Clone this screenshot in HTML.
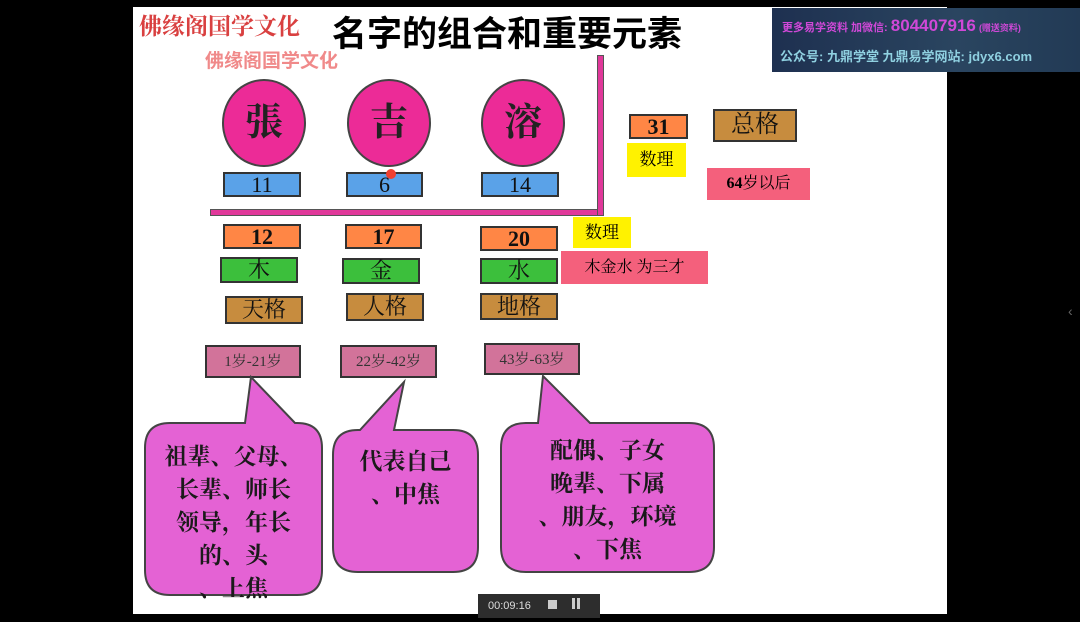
<!DOCTYPE html>
<html><head><meta charset="utf-8"><style>
body{margin:0;width:1080px;height:622px;background:#000;position:relative;overflow:hidden;font-family:"Liberation Serif","Noto Serif CJK SC",serif}
div{position:absolute;box-sizing:border-box}
.b{border:2px solid #333;text-align:center;color:#111;font-weight:bold}
.blue{background:#5aa2e8;font-size:22px;line-height:22px;font-weight:normal}
.or{background:#ff8645;font-size:22px;line-height:22px}
.gr{background:#3cbf3c;font-size:22px;line-height:22px;font-weight:normal}
.br{background:#c78c3e;font-size:22px;line-height:24px;font-weight:normal}
.ag{background:#d2739a;font-size:15px;line-height:30px;font-weight:normal;color:#333}
.circ{background:#ec2b97;border:2px solid #444;border-radius:50%;text-align:center;font-size:38px;color:#222;font-weight:bold}
.s{font-family:"Liberation Sans","Noto Sans CJK SC",sans-serif}
.bt{text-align:center;font-size:23px;line-height:33px;color:#1a1a1a;font-family:'Noto Serif CJK SC',serif;font-weight:bold}
</style></head><body>
<div style="left:133px;top:7px;width:814px;height:607px;background:#fff"></div>
<div style="left:139px;top:8px;font-size:23px;color:#d94040;font-weight:bold">佛缘阁国学文化</div>
<div style="left:205px;top:46px;font-size:19px;color:#f08a8a;font-weight:bold" class="s">佛缘阁国学文化</div>
<div style="left:332px;top:10px;font-size:35px;color:#000;font-weight:bold;font-family:'Noto Sans CJK SC',sans-serif;line-height:44px">名字的组合和重要元素</div>

<div class="circ" style="left:222px;top:79px;width:84px;height:88px;line-height:84px">張</div>
<div class="circ" style="left:347px;top:79px;width:84px;height:88px;line-height:84px">吉</div>
<div class="circ" style="left:481px;top:79px;width:84px;height:88px;line-height:84px">溶</div>

<div class="b blue" style="left:223px;top:172px;width:78px;height:25px">11</div>
<div class="b blue" style="left:346px;top:172px;width:77px;height:25px">6</div>
<div style="left:386px;top:169px;width:10px;height:10px;border-radius:50%;background:#f04030"></div>
<div class="b blue" style="left:481px;top:172px;width:78px;height:25px">14</div>

<div style="left:210px;top:209px;width:394px;height:7px;background:#e0389a;border:1px solid #555"></div>
<div style="left:597px;top:55px;width:7px;height:161px;background:#e0389a;border:1px solid #555"></div>

<div class="b or" style="left:223px;top:224px;width:78px;height:25px">12</div>
<div class="b or" style="left:345px;top:224px;width:77px;height:25px">17</div>
<div class="b or" style="left:480px;top:226px;width:78px;height:25px">20</div>
<div class="b gr" style="left:220px;top:257px;width:78px;height:26px">木</div>
<div class="b gr" style="left:342px;top:258px;width:78px;height:26px">金</div>
<div class="b gr" style="left:480px;top:258px;width:78px;height:26px">水</div>
<div class="b br" style="left:225px;top:296px;width:78px;height:28px">天格</div>
<div class="b br" style="left:346px;top:293px;width:78px;height:28px">人格</div>
<div class="b br" style="left:480px;top:293px;width:78px;height:27px">地格</div>
<div class="b ag" style="left:205px;top:345px;width:96px;height:33px">1岁-21岁</div>
<div class="b ag" style="left:340px;top:345px;width:97px;height:33px">22岁-42岁</div>
<div class="b ag" style="left:484px;top:343px;width:96px;height:32px">43岁-63岁</div>

<div style="left:573px;top:217px;width:58px;height:31px;background:#fff200;font-size:17px;line-height:31px;text-align:center">数理</div>
<div style="left:561px;top:251px;width:147px;height:33px;background:#f4607c;font-size:16px;line-height:33px;text-align:center">木金水 为三才</div>
<div class="b or" style="left:629px;top:114px;width:59px;height:25px">31</div>
<div class="b br" style="left:713px;top:109px;width:84px;height:33px;line-height:29px;font-size:24px">总格</div>
<div style="left:627px;top:143px;width:59px;height:34px;background:#fff200;font-size:17px;line-height:34px;text-align:center">数理</div>
<div style="left:707px;top:168px;width:103px;height:32px;background:#f4607c;font-size:16px;line-height:32px;text-align:center"><b>64</b>岁以后</div>

<svg style="position:absolute;left:0;top:0" width="1080" height="622">
<g fill="#e462d4" stroke="#444" stroke-width="2">
<path d="M170,423 L245,423 L251,377 L295,423 L297,423 Q322,423 322,448 L322,570 Q322,595 297,595 L170,595 Q145,595 145,570 L145,448 Q145,423 170,423 Z"/>
<path d="M358,430 L360,430 L404,382 L394,430 L453,430 Q478,430 478,455 L478,547 Q478,572 453,572 L358,572 Q333,572 333,547 L333,455 Q333,430 358,430 Z"/>
<path d="M526,423 L538,423 L543,376 L590,423 L689,423 Q714,423 714,448 L714,547 Q714,572 689,572 L526,572 Q501,572 501,547 L501,448 Q501,423 526,423 Z"/>
</g></svg>
<div class="bt" style="left:145px;top:438px;width:177px">祖辈、父母、<br>长辈、师长<br>领导，年长<br>的、头<br>、上焦</div>
<div class="bt" style="left:333px;top:443px;width:145px">代表自己<br>、中焦</div>
<div class="bt" style="left:501px;top:432px;width:213px">配偶、子女<br>晚辈、下属<br>、朋友，环境<br>、下焦</div>
<div style="left:133px;top:614px;width:814px;height:8px;background:#000"></div>
<div style="left:478px;top:594px;width:122px;height:24px;background:#2d2d2d;color:#ddd;font-size:11px;line-height:24px;padding-left:10px" class="s">00:09:16 <span style="display:inline-block;width:9px;height:9px;background:#ccc;margin-left:14px"></span> <span style="display:inline-block;width:3px;height:11px;background:#ccc;margin-left:12px"></span><span style="display:inline-block;width:3px;height:11px;background:#ccc;margin-left:2px"></span></div>

<div style="left:772px;top:8px;width:308px;height:64px;background:linear-gradient(90deg,#1e3050,#2a4560 60%,#223a55);" class="s">
<div style="left:10px;top:8px;font-size:11px;color:#d048d8;white-space:nowrap;font-weight:bold">更多易学资料 加微信: <span style="font-size:17px">804407916</span> <span style="font-size:9px">(赠送资料)</span></div>
<div style="left:8px;top:38px;font-size:13px;color:#8fd0e0;white-space:nowrap;font-weight:bold">公众号: 九鼎学堂 九鼎易学网站: jdyx6.com</div>
</div>
<div style="left:1068px;top:303px;color:#666;font-size:14px" class="s">‹</div>
</body></html>
